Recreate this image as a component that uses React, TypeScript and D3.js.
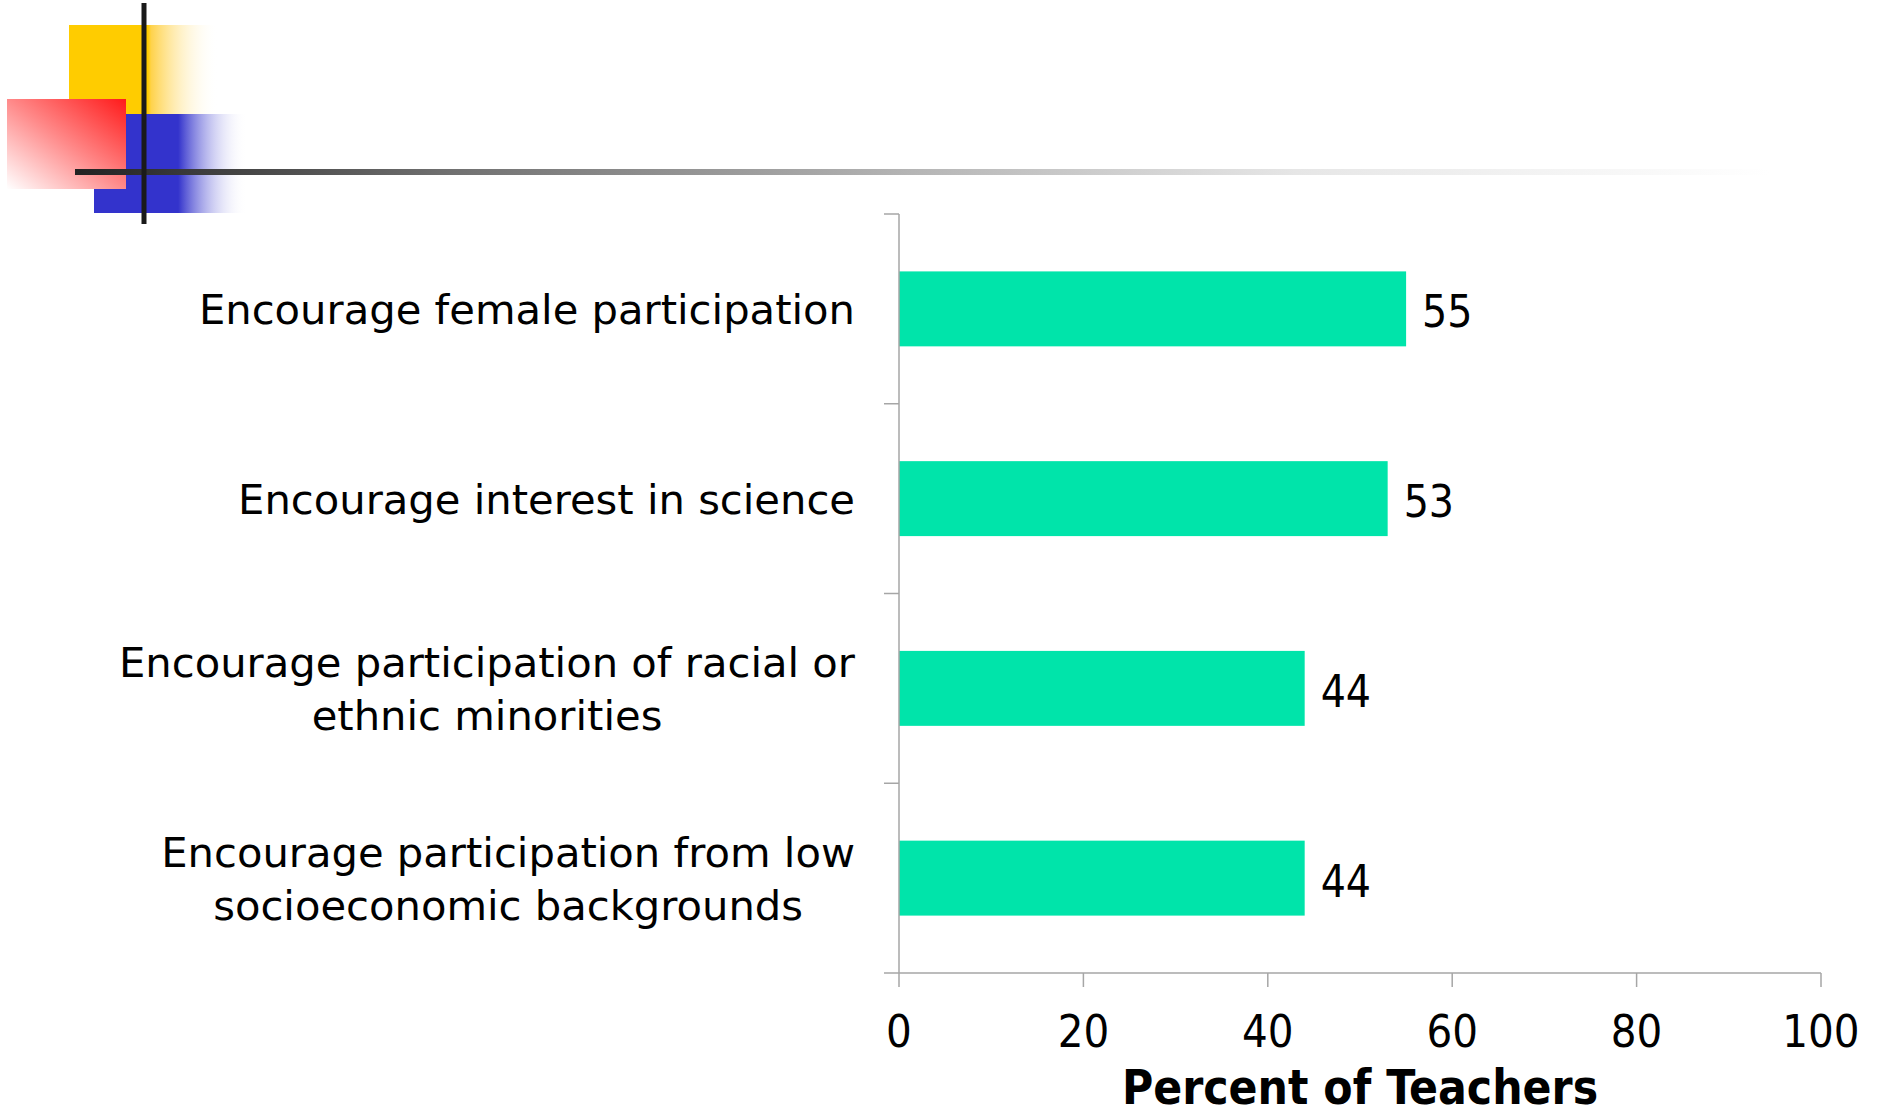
import React from "react";
import * as d3 from "d3";

// Survey results: share of teachers reporting each kind of encouragement
const categories: string[][] = [
  ["Encourage female participation"],
  ["Encourage interest in science"],
  ["Encourage participation of racial or", "ethnic minorities"],
  ["Encourage participation from low", "socioeconomic backgrounds"],
];
const values: number[] = [55, 53, 44, 44];
const xTicks: number[] = [0, 20, 40, 60, 80, 100];
const xAxisTitle = "Percent of Teachers";

const W = 1885;
const H = 1109;
const FONT = "'DejaVu Sans Condensed', 'DejaVu Sans', sans-serif";
const LABEL_FONT = "'DejaVu Sans', sans-serif";
const BAR = "#00E4AA";
const AXIS = "#A6A6A6";

function measure(text: string, font: string): number {
  const c = document.createElement("canvas").getContext("2d");
  if (!c) return text.length * 20;
  c.font = font;
  return c.measureText(text).width;
}

export default function App() {
  if (typeof document !== "undefined") {
    document.body.style.margin = "0";
    document.body.style.overflow = "hidden";
  }
  const keys = categories.map((_, i) => String(i));
  const x = d3.scaleLinear().domain([0, 100]).range([899, 1821]);
  const y = d3
    .scaleBand<string>()
    .domain(keys)
    .range([214, 973])
    .paddingInner(0.605)
    .paddingOuter(0.3025);
  const step = y.step();
  const x0 = x(0);
  const yBottom = 973;
  const labelRight = 855;
  const labelSize = 41.7;
  const labelFont = `${labelSize}px ${LABEL_FONT}`;
  const lineGap = 53;

  const bounds = keys.map((_, i) => 214 + i * step).concat([yBottom]);

  return (
    <div style={{ position: "absolute", left: 0, top: 0 }}>
      <svg width={W} height={H} style={{ display: "block" }} fontFamily={FONT}>
        <defs>
          <linearGradient id="yel" x1="0" y1="0" x2="1" y2="0">
            <stop offset="0" stopColor="#FFCC00" />
            <stop offset="0.53" stopColor="#FFCC00" />
            <stop offset="0.55" stopColor="#FFD24A" />
            <stop offset="1" stopColor="#FFFFFF" stopOpacity="0" />
          </linearGradient>
          <linearGradient id="blu" x1="0" y1="0" x2="1" y2="0">
            <stop offset="0" stopColor="#3333CC" />
            <stop offset="0.55" stopColor="#3333CC" />
            <stop offset="1" stopColor="#FFFFFF" stopOpacity="0" />
          </linearGradient>
          <linearGradient id="red" x1="1" y1="0" x2="0" y2="1">
            <stop offset="0" stopColor="#FF1A1A" />
            <stop offset="0.5" stopColor="#FF8A8A" />
            <stop offset="1" stopColor="#FFFFFF" />
          </linearGradient>
          <linearGradient id="rule" x1="0" y1="0" x2="1" y2="0">
            <stop offset="0" stopColor="#222222" />
            <stop offset="0.22" stopColor="#707070" />
            <stop offset="0.49" stopColor="#B4B4B4" />
            <stop offset="0.72" stopColor="#E6E6E6" />
            <stop offset="1" stopColor="#FFFFFF" />
          </linearGradient>
        </defs>

        {/* slide decoration */}
        <rect x={69} y={25} width={149} height={89} fill="url(#yel)" />
        <rect x={94} y={114} width={153} height={99} fill="url(#blu)" />
        <rect x={7} y={99} width={119} height={90} fill="url(#red)" />
        <rect x={75} y={169} width={1695} height={6} fill="url(#rule)" />
        <rect x={141.5} y={3} width={5} height={221} fill="#1A1A1A" />

        {/* bars */}
        {values.map((v, i) => (
          <rect
            key={i}
            x={x0}
            y={y(keys[i])!}
            width={x(v) - x0}
            height={y.bandwidth()}
            fill={BAR}
          />
        ))}

        {/* value labels */}
        {values.map((v, i) => (
          <text
            key={i}
            x={x(v) + 16}
            y={y(keys[i])! + y.bandwidth() / 2 + 18.5}
            fontSize={44}
            fill="#000"
          >
            {v}
          </text>
        ))}

        {/* category axis */}
        <line x1={x0} x2={x0} y1={214} y2={yBottom} stroke={AXIS} strokeWidth={1.5} />
        {bounds.map((b, i) => (
          <line key={i} x1={x0 - 15} x2={x0} y1={b} y2={b} stroke={AXIS} strokeWidth={1.5} />
        ))}

        {/* value axis */}
        <line x1={x0} x2={x(100)} y1={yBottom} y2={yBottom} stroke={AXIS} strokeWidth={1.5} />
        {xTicks.map((t) => (
          <g key={t}>
            <line x1={x(t)} x2={x(t)} y1={yBottom} y2={yBottom + 14} stroke={AXIS} strokeWidth={1.5} />
            <text x={x(t)} y={1047} fontSize={45} textAnchor="middle" fill="#000">
              {t}
            </text>
          </g>
        ))}
        <text
          x={(x(0) + x(100)) / 2}
          y={1104}
          fontSize={47.5}
          fontWeight="bold"
          textAnchor="middle"
          fill="#000"
        >
          {xAxisTitle}
        </text>

        {/* category labels */}
        {categories.map((lines, i) => {
          const cy = y(keys[i])! + y.bandwidth() / 2;
          const maxW = Math.max(...lines.map((l) => measure(l, labelFont)));
          const cx = labelRight - maxW / 2;
          const first = cy - ((lines.length - 1) * lineGap) / 2 + 15;
          return (
            <text
              key={i}
              fontFamily={LABEL_FONT}
              fontSize={labelSize}
              textAnchor="middle"
              fill="#000"
            >
              {lines.map((l, j) => (
                <tspan key={j} x={cx} y={first + j * lineGap}>
                  {l}
                </tspan>
              ))}
            </text>
          );
        })}
      </svg>
    </div>
  );
}
